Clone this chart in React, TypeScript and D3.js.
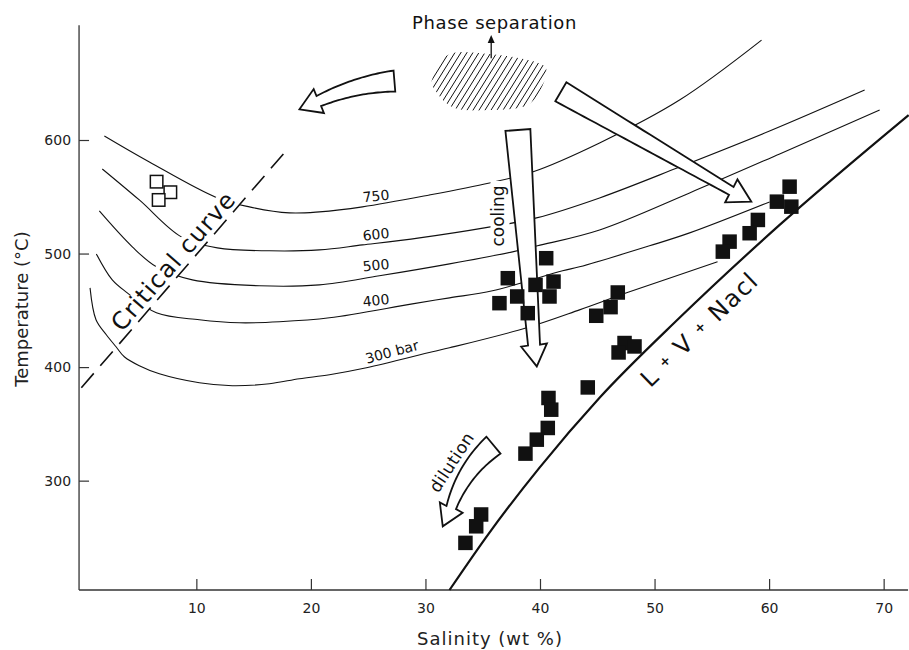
import { useEffect, useRef } from 'react';
import * as d3 from 'd3';

// isobars, [salinity wt %, temperature °C]
const iso750 = [[1.97, 603.5], [5.9, 580.6], [11.83, 549.0], [14.63, 541.1], [18.12, 535.8], [20.74, 536.7], [24.5, 541.1], [30.35, 551.6], [35.59, 562.2], [39.34, 571.8], [45.2, 597.4], [52.18, 635.2], [59.34, 688.0]];
const iso600 = [[1.79, 574.5], [5.02, 547.2], [8.69, 514.7], [11.83, 505.0], [16.38, 502.4], [20.74, 503.2], [24.5, 507.6], [29.48, 513.8], [35.15, 522.6], [39.69, 531.4], [45.2, 549.0], [52.18, 576.2], [60.04, 607.9], [68.34, 644.0]];
const iso500 = [[1.53, 537.5], [4.41, 505.9], [6.51, 488.3], [9.65, 476.8], [15.5, 471.6], [20.74, 472.4], [25.98, 480.4], [32.1, 490.9], [37.6, 501.5], [39.78, 506.8], [45.2, 520.8], [53.06, 553.4], [60.92, 587.7], [69.65, 626.4]];
const iso400 = [[1.27, 499.7], [2.66, 476.8], [3.97, 465.4], [6.51, 447.8], [10.26, 441.7], [13.76, 439.0], [17.25, 439.9], [21.62, 443.4], [28.86, 455.7], [32.1, 461.0], [35.85, 467.2], [41.97, 484.8], [43.45, 488.3], [49.56, 506.8], [53.06, 518.2], [60.04, 545.5]];
const iso300 = [[0.72, 469.8], [1.24, 441.7], [2.14, 428.5], [2.99, 417.9], [3.71, 409.1], [5.02, 401.2], [6.77, 394.1], [10.26, 386.2], [13.14, 383.6], [16.38, 385.4], [19.0, 389.8], [21.62, 393.3], [24.85, 399.4], [30.61, 413.5], [32.1, 417.0], [38.82, 434.6], [43.45, 450.4], [47.56, 465.4], [55.5, 492.7]];

const isoLabels = [
  { text: '750', s: 25.68, t: 550.7, rot: -6 },
  { text: '600', s: 25.68, t: 516.9, rot: -6 },
  { text: '500', s: 25.68, t: 489.8, rot: -6 },
  { text: '400', s: 25.68, t: 458.8, rot: -6 },
  { text: '300 bar', s: 27.07, t: 413.5, rot: -15 },
];

// L + V + NaCl saturation curve
const halite = [[32.1, 203.7], [35.59, 254.3], [39.96, 311.5], [45.2, 373.0], [52.18, 443.4], [60.92, 525.2], [72.18, 622.0]];
const critical = [[-0.04, 381.8], [18.12, 593.8]];

// fluid inclusions
const inclusions = [
  [40.54, 495.9], [37.19, 478.3], [39.61, 472.4], [41.18, 475.3], [40.83, 462.2], [38.01, 462.2], [36.46, 456.3], [38.93, 447.5],
  [46.79, 465.7], [46.16, 452.8], [44.91, 445.2],
  [47.38, 421.2], [46.86, 412.9], [48.25, 418.2],
  [44.17, 382.1],
  [40.74, 372.8], [40.98, 362.5], [40.68, 346.4], [39.72, 336.1], [38.73, 323.8],
  [34.86, 270.2], [34.43, 259.8], [33.49, 245.2],
  [61.79, 558.9], [60.68, 545.7], [61.94, 541.3], [59.02, 529.6], [58.3, 517.9], [56.55, 510.5], [55.96, 501.7],
];
const lowSalinity = [[6.53, 563.3], [7.73, 554.0], [6.71, 547.2]];

const xTicks = [10, 20, 30, 40, 50, 60, 70];
const yTicks = [300, 400, 500, 600];

// hollow arrows: tail, optional control, head base, tip (data units)
const arrows = [
  { tail: [27.29, 651.9], ctrl: [23.91, 649.1], base: [20.69, 634.3], tip: [19.0, 627.0], w0: 21, w1: 11, hh: 13 },
  { tail: [41.82, 642.5], base: [56.7, 555.2], tip: [58.45, 545.7], w0: 22, w1: 9, hh: 13 },
  { tail: [38.07, 608.8], base: [39.48, 419.4], tip: [39.72, 400.6], w0: 25, w1: 12, hh: 13 },
  { tail: [35.94, 331.2], ctrl: [33.31, 309.2], base: [32.25, 276.3], tip: [31.51, 259.8], w0: 22, w1: 10, hh: 12.5 },
];

const phaseBlob = [[30.61, 654.5], [32.1, 675.7], [35.59, 675.7], [39.34, 669.5], [40.57, 659.8], [39.08, 631.7], [35.59, 626.4], [32.53, 628.2], [30.96, 642.2]];

const App = () => {
  const svgRef = useRef<SVGSVGElement>(null);

  useEffect(() => {
    const svg = d3.select(svgRef.current);
    svg.selectAll('*').remove();
    const font = "'DejaVu Sans', sans-serif";
    const ink = '#111';

    const xs = d3.scaleLinear().domain([0, 70]).range([81.8, 883.65]);
    const ys = d3.scaleLinear().domain([200, 700]).range([594.2, 26.45]);
    const salMin = -0.24, salMax = 72.13, tMin = 203.7, tMax = 701;
    const X0 = xs(salMin), Y0 = ys(tMin);

    svg.append('rect').attr('width', 909).attr('height', 650).attr('fill', '#fff');

    // axes
    svg.append('line').attr('x1', X0).attr('x2', xs(salMax)).attr('y1', Y0).attr('y2', Y0)
      .attr('stroke', '#333').attr('stroke-width', 1.3);
    svg.append('line').attr('x1', X0).attr('x2', X0).attr('y1', Y0).attr('y2', ys(tMax))
      .attr('stroke', '#333').attr('stroke-width', 1.3);

    const gx = svg.append('g').attr('transform', `translate(0,${Y0})`)
      .call(d3.axisBottom(xs).tickValues(xTicks).tickSizeInner(-11).tickSizeOuter(0).tickPadding(13).tickFormat(d3.format('d')));
    gx.select('.domain').remove();
    const gy = svg.append('g').attr('transform', `translate(${X0},0)`)
      .call(d3.axisLeft(ys).tickValues(yTicks).tickSizeInner(-10).tickSizeOuter(0).tickPadding(8).tickFormat(d3.format('d')));
    gy.select('.domain').remove();
    [gx, gy].forEach(g => {
      g.attr('font-family', font).attr('font-size', 14);
      g.selectAll('text').attr('fill', '#222');
      g.selectAll('line').attr('stroke', '#333').attr('stroke-width', 1.2);
    });

    svg.append('text').attr('x', 490).attr('y', 645).attr('text-anchor', 'middle')
      .attr('font-family', font).attr('font-size', 18).attr('letter-spacing', 1).attr('fill', '#222')
      .text('Salinity (wt %)');
    svg.append('text').attr('transform', 'translate(28,309) rotate(-90)').attr('text-anchor', 'middle')
      .attr('font-family', font).attr('font-size', 18).attr('fill', '#222')
      .text('Temperature (°C)');

    // isobars
    const curve = d3.line<number[]>().x(d => xs(d[0])).y(d => ys(d[1])).curve(d3.curveCatmullRom.alpha(0.5));
    [iso750, iso600, iso500, iso400, iso300].forEach(pts => {
      svg.append('path').attr('d', curve(pts)).attr('fill', 'none').attr('stroke', ink).attr('stroke-width', 1.1);
    });
    isoLabels.forEach(l => {
      svg.append('text').attr('transform', `translate(${xs(l.s)},${ys(l.t)}) rotate(${l.rot})`)
        .attr('text-anchor', 'middle').attr('dominant-baseline', 'central')
        .attr('font-family', font).attr('font-size', 14).attr('fill', ink).text(l.text);
    });

    // critical curve label (masks the isobars it crosses)
    const crit = svg.append('g').attr('transform', `translate(${xs(8.54)},${ys(488.7)}) rotate(-49)`);
    crit.append('rect').attr('x', -88).attr('y', -18).attr('width', 180).attr('height', 23).attr('fill', '#fff');
    crit.append('text').attr('text-anchor', 'middle').attr('font-family', font).attr('font-size', 24)
      .attr('letter-spacing', 1.2).attr('fill', ink).text('Critical curve');
    svg.append('path').attr('d', d3.line<number[]>().x(d => xs(d[0])).y(d => ys(d[1]))(critical))
      .attr('fill', 'none').attr('stroke', ink).attr('stroke-width', 1.6).attr('stroke-dasharray', '19,10');

    // halite saturation
    svg.append('path').attr('d', d3.line<number[]>().x(d => xs(d[0])).y(d => ys(d[1])).curve(d3.curveMonotoneX)(halite))
      .attr('fill', 'none').attr('stroke', ink).attr('stroke-width', 2.2);

    const lv = svg.append('text').attr('transform', `translate(${xs(54.42)},${ys(427.9)}) rotate(-44)`)
      .attr('text-anchor', 'middle').attr('font-family', font).attr('font-size', 24)
      .attr('letter-spacing', 1.5).attr('fill', ink);
    lv.append('tspan').text('L ');
    lv.append('tspan').attr('font-size', 13).attr('font-weight', 'bold').attr('dy', -5).text('+');
    lv.append('tspan').attr('dy', 5).text(' V ');
    lv.append('tspan').attr('font-size', 13).attr('font-weight', 'bold').attr('dy', -5).text('+');
    lv.append('tspan').attr('dy', 5).text(' Nacl');

    // phase separation hatch
    const blob = d3.line<number[]>().x(d => xs(d[0])).y(d => ys(d[1])).curve(d3.curveCardinalClosed)(phaseBlob);
    svg.append('defs').append('clipPath').attr('id', 'blobClip').append('path').attr('d', blob);
    const hatch = svg.append('g').attr('clip-path', 'url(#blobClip)');
    const hy0 = ys(620), hy1 = ys(682);
    const dxh = (hy0 - hy1) / Math.tan((58 * Math.PI) / 180);
    d3.range(0, 30).forEach(k => {
      const xb = xs(28) + k * 6;
      hatch.append('line').attr('x1', xb).attr('y1', hy0).attr('x2', xb + dxh).attr('y2', hy1)
        .attr('stroke', ink).attr('stroke-width', 1);
    });
    const ax = xs(35.74), aBot = ys(671.9), aTip = ys(692.4);
    svg.append('line').attr('x1', ax).attr('x2', ax).attr('y1', aBot).attr('y2', aTip + 6)
      .attr('stroke', ink).attr('stroke-width', 1.3);
    svg.append('path').attr('d', `M${ax},${aTip}L${ax - 3.5},${aTip + 8}L${ax + 3.5},${aTip + 8}Z`).attr('fill', ink);
    svg.append('text').attr('x', xs(36.03)).attr('y', ys(697.6)).attr('text-anchor', 'middle')
      .attr('font-family', font).attr('font-size', 18).attr('letter-spacing', 0.6).attr('fill', ink)
      .text('Phase separation');

    // hollow arrows
    const arrowPath = (a: any) => {
      const P0 = [xs(a.tail[0]), ys(a.tail[1])];
      const P2 = [xs(a.base[0]), ys(a.base[1])];
      const C = a.ctrl ? [xs(a.ctrl[0]), ys(a.ctrl[1])] : [(P0[0] + P2[0]) / 2, (P0[1] + P2[1]) / 2];
      const T = [xs(a.tip[0]), ys(a.tip[1])];
      const left: number[][] = [], right: number[][] = [];
      const n = 30;
      for (let i = 0; i <= n; i++) {
        const t = i / n;
        const x = (1 - t) ** 2 * P0[0] + 2 * (1 - t) * t * C[0] + t * t * P2[0];
        const y = (1 - t) ** 2 * P0[1] + 2 * (1 - t) * t * C[1] + t * t * P2[1];
        const dx = 2 * (1 - t) * (C[0] - P0[0]) + 2 * t * (P2[0] - C[0]);
        const dy = 2 * (1 - t) * (C[1] - P0[1]) + 2 * t * (P2[1] - C[1]);
        const len = Math.hypot(dx, dy);
        const w = (a.w0 + (a.w1 - a.w0) * t) / 2;
        left.push([x - (dy / len) * w, y + (dx / len) * w]);
        right.push([x + (dy / len) * w, y - (dx / len) * w]);
      }
      const hx = T[0] - P2[0], hy = T[1] - P2[1], hl = Math.hypot(hx, hy);
      const bx = -hy / hl, by = hx / hl;
      const pts = [...left, [P2[0] + bx * a.hh, P2[1] + by * a.hh], T, [P2[0] - bx * a.hh, P2[1] - by * a.hh], ...right.reverse()];
      return 'M' + pts.map(p => p.join(',')).join('L') + 'Z';
    };
    arrows.forEach(a => {
      svg.append('path').attr('d', arrowPath(a)).attr('fill', '#fff').attr('stroke', ink)
        .attr('stroke-width', 1.8).attr('stroke-linejoin', 'miter');
    });

    const cool = svg.append('g').attr('transform', `translate(${xs(36.9)},${ys(533.1)}) rotate(-90)`);
    cool.append('rect').attr('x', -35).attr('y', -14).attr('width', 70).attr('height', 19).attr('fill', '#fff');
    cool.append('text').attr('text-anchor', 'middle').attr('font-family', font).attr('font-size', 17)
      .attr('fill', ink).text('cooling');
    svg.append('text').attr('transform', `translate(${xs(32.72)},${ys(313.5)}) rotate(-57)`)
      .attr('text-anchor', 'middle').attr('font-family', font).attr('font-size', 17).attr('letter-spacing', 0.5)
      .attr('fill', ink).text('dilution');

    // inclusions
    const sq = 14.5;
    svg.append('g').selectAll('rect').data(inclusions).join('rect')
      .attr('x', d => xs(d[0]) - sq / 2).attr('y', d => ys(d[1]) - sq / 2)
      .attr('width', sq).attr('height', sq).attr('fill', ink);
    const os = 12.5;
    svg.append('g').selectAll('rect').data(lowSalinity).join('rect')
      .attr('x', d => xs(d[0]) - os / 2).attr('y', d => ys(d[1]) - os / 2)
      .attr('width', os).attr('height', os).attr('fill', '#fff').attr('stroke', ink).attr('stroke-width', 1.5);
  }, []);

  return <svg ref={svgRef} width={909} height={650} style={{ position: 'absolute', left: 0, top: 0, display: 'block' }} />;
};

export default App;
